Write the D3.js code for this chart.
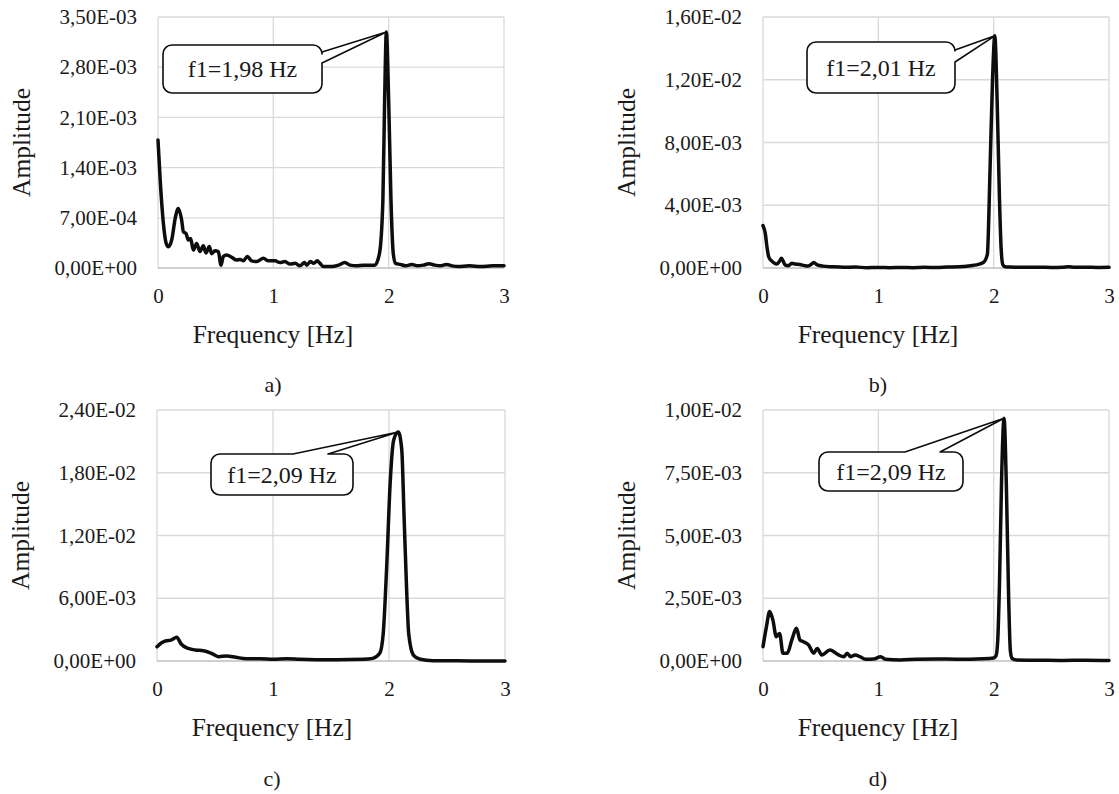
<!DOCTYPE html>
<html>
<head>
<meta charset="utf-8">
<script src="https://cdn.jsdelivr.net/npm/d3@7"></script>
<style>
  html, body { margin: 0; padding: 0; background: #fff; }
  svg { display: block; }
  svg text { font-family: "Liberation Serif", "DejaVu Serif", "Noto Serif", "Times New Roman", serif !important; fill: #1a1a1a; }
</style>
</head>
<body>
<svg id="chart" width="1119" height="794"></svg>
<script>
// ---------------- DATA ----------------
const xTicks = [0, 1, 2, 3];

// Panel a
const freqA = [0, 0.02, 0.045, 0.07, 0.09, 0.12, 0.15, 0.176, 0.205, 0.22, 0.243, 0.263, 0.283, 0.306, 0.335, 0.364, 0.393, 0.416, 0.445, 0.465, 0.494, 0.523, 0.546, 0.566, 0.595, 0.639, 0.682, 0.711, 0.74, 0.775, 0.812, 0.856, 0.914, 0.957, 1.015, 1.058, 1.10, 1.145, 1.19, 1.23, 1.27, 1.29, 1.32, 1.35, 1.38, 1.405, 1.434, 1.51, 1.565, 1.62, 1.665, 1.72, 1.78, 1.88, 1.92, 1.95, 1.965, 1.98, 2.00, 2.02, 2.04, 2.06, 2.10, 2.15, 2.20, 2.25, 2.30, 2.35, 2.40, 2.45, 2.50, 2.55, 2.60, 2.70, 2.80, 2.90, 3.00];
const ampA = [1.785e-3, 1.2e-3, 6.5e-4, 3.5e-4, 2.97e-4, 4.0e-4, 7.0e-4, 8.3e-4, 6.7e-4, 5.07e-4, 4.8e-4, 3.9e-4, 4.1e-4, 2.5e-4, 3.4e-4, 2.3e-4, 3.1e-4, 2.1e-4, 3.0e-4, 2.0e-4, 2.4e-4, 2.3e-4, 0.4e-4, 1.6e-4, 1.8e-4, 1.5e-4, 1.1e-4, 1.2e-4, 1.0e-4, 1.6e-4, 1.0e-4, 0.9e-4, 1.35e-4, 1.0e-4, 1.0e-4, 0.75e-4, 0.9e-4, 0.55e-4, 0.65e-4, 0.3e-4, 0.75e-4, 0.4e-4, 0.9e-4, 0.65e-4, 1.0e-4, 0.65e-4, 0.2e-4, 0.2e-4, 0.4e-4, 0.75e-4, 0.4e-4, 0.3e-4, 0.4e-4, 0.4e-4, 2.0e-4, 9.5e-4, 2.34e-3, 3.29e-3, 2.34e-3, 9.5e-4, 2.0e-4, 0.65e-4, 0.5e-4, 0.3e-4, 0.5e-4, 0.3e-4, 0.4e-4, 0.6e-4, 0.4e-4, 0.3e-4, 0.5e-4, 0.3e-4, 0.2e-4, 0.3e-4, 0.2e-4, 0.3e-4, 0.3e-4];
const yTicksA = [0, 7e-4, 1.4e-3, 2.1e-3, 2.8e-3, 3.5e-3];

// Panel b
const freqB = [0, 0.02, 0.035, 0.05, 0.075, 0.10, 0.12, 0.145, 0.16, 0.175, 0.19, 0.22, 0.25, 0.28, 0.32, 0.36, 0.39, 0.43, 0.44, 0.47, 0.52, 0.6, 0.7, 0.8, 0.9, 1.0, 1.1, 1.2, 1.3, 1.4, 1.5, 1.6, 1.7, 1.8, 1.85, 1.91, 1.945, 1.969, 1.99, 2.01, 2.03, 2.05, 2.065, 2.08, 2.10, 2.14, 2.2, 2.3, 2.4, 2.5, 2.6, 2.65, 2.7, 2.8, 2.9, 3.0];
const ampB = [2.7e-3, 2.2e-3, 1.3e-3, 0.7e-3, 0.45e-3, 0.3e-3, 0.25e-3, 0.45e-3, 0.62e-3, 0.45e-3, 0.2e-3, 0.15e-3, 0.3e-3, 0.25e-3, 0.22e-3, 0.15e-3, 0.12e-3, 0.3e-3, 0.35e-3, 0.2e-3, 0.12e-3, 0.08e-3, 0.05e-3, 0.06e-3, 0.02e-3, 0.03e-3, 0.02e-3, 0.03e-3, 0.02e-3, 0.04e-3, 0.03e-3, 0.06e-3, 0.08e-3, 0.15e-3, 0.2e-3, 0.35e-3, 0.85e-3, 6.4e-3, 12.0e-3, 14.8e-3, 10.7e-3, 4.5e-3, 1.2e-3, 0.2e-3, 0.08e-3, 0.06e-3, 0.05e-3, 0.04e-3, 0.05e-3, 0.03e-3, 0.05e-3, 0.08e-3, 0.04e-3, 0.05e-3, 0.03e-3, 0.04e-3];
const yTicksB = [0, 4e-3, 8e-3, 1.2e-2, 1.6e-2];

// Panel c
const freqC = [0, 0.04, 0.08, 0.12, 0.17, 0.21, 0.27, 0.33, 0.40, 0.47, 0.53, 0.60, 0.68, 0.77, 0.89, 1.0, 1.12, 1.23, 1.37, 1.55, 1.78, 1.86, 1.92, 1.95, 1.98, 2.01, 2.04, 2.08, 2.11, 2.13, 2.15, 2.17, 2.21, 2.27, 2.38, 2.5, 2.7, 3.0];
const ampC = [1.37e-3, 1.75e-3, 1.94e-3, 2.0e-3, 2.26e-3, 1.6e-3, 1.2e-3, 1.05e-3, 0.99e-3, 0.73e-3, 0.41e-3, 0.48e-3, 0.35e-3, 0.22e-3, 0.22e-3, 0.16e-3, 0.22e-3, 0.16e-3, 0.13e-3, 0.13e-3, 0.16e-3, 0.25e-3, 0.73e-3, 2.6e-3, 9.0e-3, 17.0e-3, 21.1e-3, 21.9e-3, 20.2e-3, 13.8e-3, 7.4e-3, 2.6e-3, 0.57e-3, 0.16e-3, 0.03e-3, 0.02e-3, 0.01e-3, 0.01e-3];
const yTicksC = [0, 6e-3, 1.2e-2, 1.8e-2, 2.4e-2];

// Panel d
const freqD = [0, 0.03, 0.057, 0.086, 0.115, 0.144, 0.173, 0.21, 0.25, 0.29, 0.32, 0.35, 0.395, 0.44, 0.47, 0.51, 0.58, 0.655, 0.70, 0.73, 0.76, 0.80, 0.84, 0.89, 0.96, 1.02, 1.06, 1.19, 1.33, 1.51, 1.68, 1.91, 2.0, 2.02, 2.035, 2.05, 2.07, 2.09, 2.11, 2.13, 2.145, 2.16, 2.2, 2.4, 2.6, 2.8, 3.0];
const ampD = [0.57e-3, 1.37e-3, 1.97e-3, 1.63e-3, 0.97e-3, 1.1e-3, 0.31e-3, 0.31e-3, 0.84e-3, 1.3e-3, 0.84e-3, 0.77e-3, 0.64e-3, 0.31e-3, 0.5e-3, 0.24e-3, 0.44e-3, 0.24e-3, 0.17e-3, 0.31e-3, 0.17e-3, 0.24e-3, 0.17e-3, 0.07e-3, 0.08e-3, 0.17e-3, 0.07e-3, 0.04e-3, 0.07e-3, 0.08e-3, 0.07e-3, 0.09e-3, 0.12e-3, 0.2e-3, 0.8e-3, 3.0e-3, 7.5e-3, 9.67e-3, 7.0e-3, 2.5e-3, 0.4e-3, 0.1e-3, 0.04e-3, 0.03e-3, 0.02e-3, 0.03e-3, 0.02e-3];
const yTicksD = [0, 2.5e-3, 5e-3, 7.5e-3, 1e-2];

const peakFreqs = [1.98, 2.01, 2.08, 2.09];
const peakAmps = [3.29e-3, 1.48e-2, 2.19e-2, 9.67e-3];
const calloutTexts = ["f1=1,98 Hz", "f1=2,01 Hz", "f1=2,09 Hz", "f1=2,09 Hz"];
const panelLabels = ["a)", "b)", "c)", "d)"];
const xTitle = "Frequency [Hz]";
const yTitle = "Amplitude";

// ---------------- LAYOUT ----------------
const FONT = '"Liberation Serif", "DejaVu Serif", "Noto Serif", "Times New Roman", serif';
const panels = [
  { freq: freqA, amp: ampA, yTicks: yTicksA, x0: 158, x1: 504, y0: 268, y1: 17,
    box: [163, 45, 322, 93], side: "right", wa: 52, wb: 63, labelY: 392 },
  { freq: freqB, amp: ampB, yTicks: yTicksB, x0: 763, x1: 1109, y0: 268, y1: 17,
    box: [807, 42, 955, 93], side: "right", wa: 50, wb: 62, labelY: 392 },
  { freq: freqC, amp: ampC, yTicks: yTicksC, x0: 157, x1: 505, y0: 661, y1: 410,
    box: [211, 454, 353, 495], side: "top", wa: 293, wb: 328, labelY: 786 },
  { freq: freqD, amp: ampD, yTicks: yTicksD, x0: 763, x1: 1109, y0: 661, y1: 410,
    box: [819, 452, 963, 491], side: "top", wa: 905, wb: 940, labelY: 786 }
];

function fmtExcel(v) {
  const s = v.toExponential(2);
  const [m, e] = s.split("e");
  const sign = e[0] === "-" ? "-" : "+";
  const ex = Math.abs(parseInt(e, 10)).toString().padStart(2, "0");
  return m.replace(".", ",") + "E" + sign + ex;
}

function calloutPath(b, side, a, c, tx, ty, r) {
  const [x0, y0, x1, y1] = b;
  let p = `M${x0 + r},${y0}`;
  if (side === "top") {
    p += `H${a}L${tx},${ty}L${c},${y0}`;
  }
  p += `H${x1 - r}A${r},${r} 0 0 1 ${x1},${y0 + r}`;
  if (side === "right") {
    p += `V${a}L${tx},${ty}L${x1},${c}`;
  }
  p += `V${y1 - r}A${r},${r} 0 0 1 ${x1 - r},${y1}`;
  p += `H${x0 + r}A${r},${r} 0 0 1 ${x0},${y1 - r}`;
  p += `V${y0 + r}A${r},${r} 0 0 1 ${x0 + r},${y0}Z`;
  return p;
}

const svg = d3.select("#chart").attr("font-family", FONT);

panels.forEach((P, i) => {
  const g = svg.append("g");
  const x = d3.scaleLinear().domain([0, 3]).range([P.x0, P.x1]);
  const yMax = P.yTicks[P.yTicks.length - 1];
  const y = d3.scaleLinear().domain([0, yMax]).range([P.y0, P.y1]);

  // grid
  g.append("g").selectAll("line").data(P.yTicks.slice(1)).join("line")
    .attr("x1", P.x0).attr("x2", P.x1)
    .attr("y1", d => y(d)).attr("y2", d => y(d))
    .attr("stroke", "#d9d9d9").attr("stroke-width", 1.3);
  g.append("g").selectAll("line").data(xTicks).join("line")
    .attr("x1", d => x(d)).attr("x2", d => x(d))
    .attr("y1", P.y0).attr("y2", P.y1)
    .attr("stroke", "#d9d9d9").attr("stroke-width", 1.3);
  g.append("line").attr("x1", P.x0).attr("x2", P.x1).attr("y1", P.y0).attr("y2", P.y0)
    .attr("stroke", "#bfbfbf").attr("stroke-width", 1.3);

  // y tick labels
  const yAxis = d3.axisLeft(y).tickValues(P.yTicks).tickFormat(fmtExcel).tickSize(0).tickPadding(21);
  const ya = g.append("g").attr("transform", `translate(${P.x0},0)`).call(yAxis)
    .attr("font-family", FONT);
  ya.select(".domain").remove();
  ya.selectAll("text").attr("font-size", 21).attr("fill", "#1a1a1a");

  // x tick labels
  const xAxis = d3.axisBottom(x).tickValues(xTicks).tickFormat(d3.format("d")).tickSize(0).tickPadding(20);
  const xa = g.append("g").attr("transform", `translate(0,${P.y0})`).call(xAxis)
    .attr("font-family", FONT);
  xa.select(".domain").remove();
  xa.selectAll("text").attr("font-size", 21).attr("fill", "#1a1a1a");

  // curve
  const pts = P.freq.map((f, k) => [f, P.amp[k]]);
  const line = d3.line().x(d => x(d[0])).y(d => y(d[1])).curve(d3.curveMonotoneX);
  g.append("path").datum(pts).attr("d", line)
    .attr("fill", "none").attr("stroke", "#0d0d0d").attr("stroke-width", 3.5)
    .attr("stroke-linejoin", "round").attr("stroke-linecap", "round");

  // axis titles
  g.append("text").attr("x", P.x0 + 115).attr("y", P.y0 + 75)
    .attr("text-anchor", "middle").attr("font-size", 25.5).text(xTitle);
  g.append("text")
    .attr("transform", `translate(${P.x0 - 128},${(P.y0 + P.y1) / 2}) rotate(-90)`)
    .attr("text-anchor", "middle").attr("font-size", 25.5).text(yTitle);

  // callout
  const tx = x(peakFreqs[i]), ty = y(peakAmps[i]);
  g.append("path").attr("d", calloutPath(P.box, P.side, P.wa, P.wb, tx, ty, 9))
    .attr("fill", "#fff").attr("stroke", "#0d0d0d").attr("stroke-width", 1.6)
    .attr("stroke-linejoin", "round");
  g.append("text")
    .attr("x", (P.box[0] + P.box[2]) / 2).attr("y", (P.box[1] + P.box[3]) / 2 + 8)
    .attr("text-anchor", "middle").attr("font-size", 24).text(calloutTexts[i]);

  // panel label
  g.append("text").attr("x", P.x0 + 115).attr("y", P.labelY)
    .attr("text-anchor", "middle").attr("font-size", 22).text(panelLabels[i]);
});
</script>
</body>
</html>
